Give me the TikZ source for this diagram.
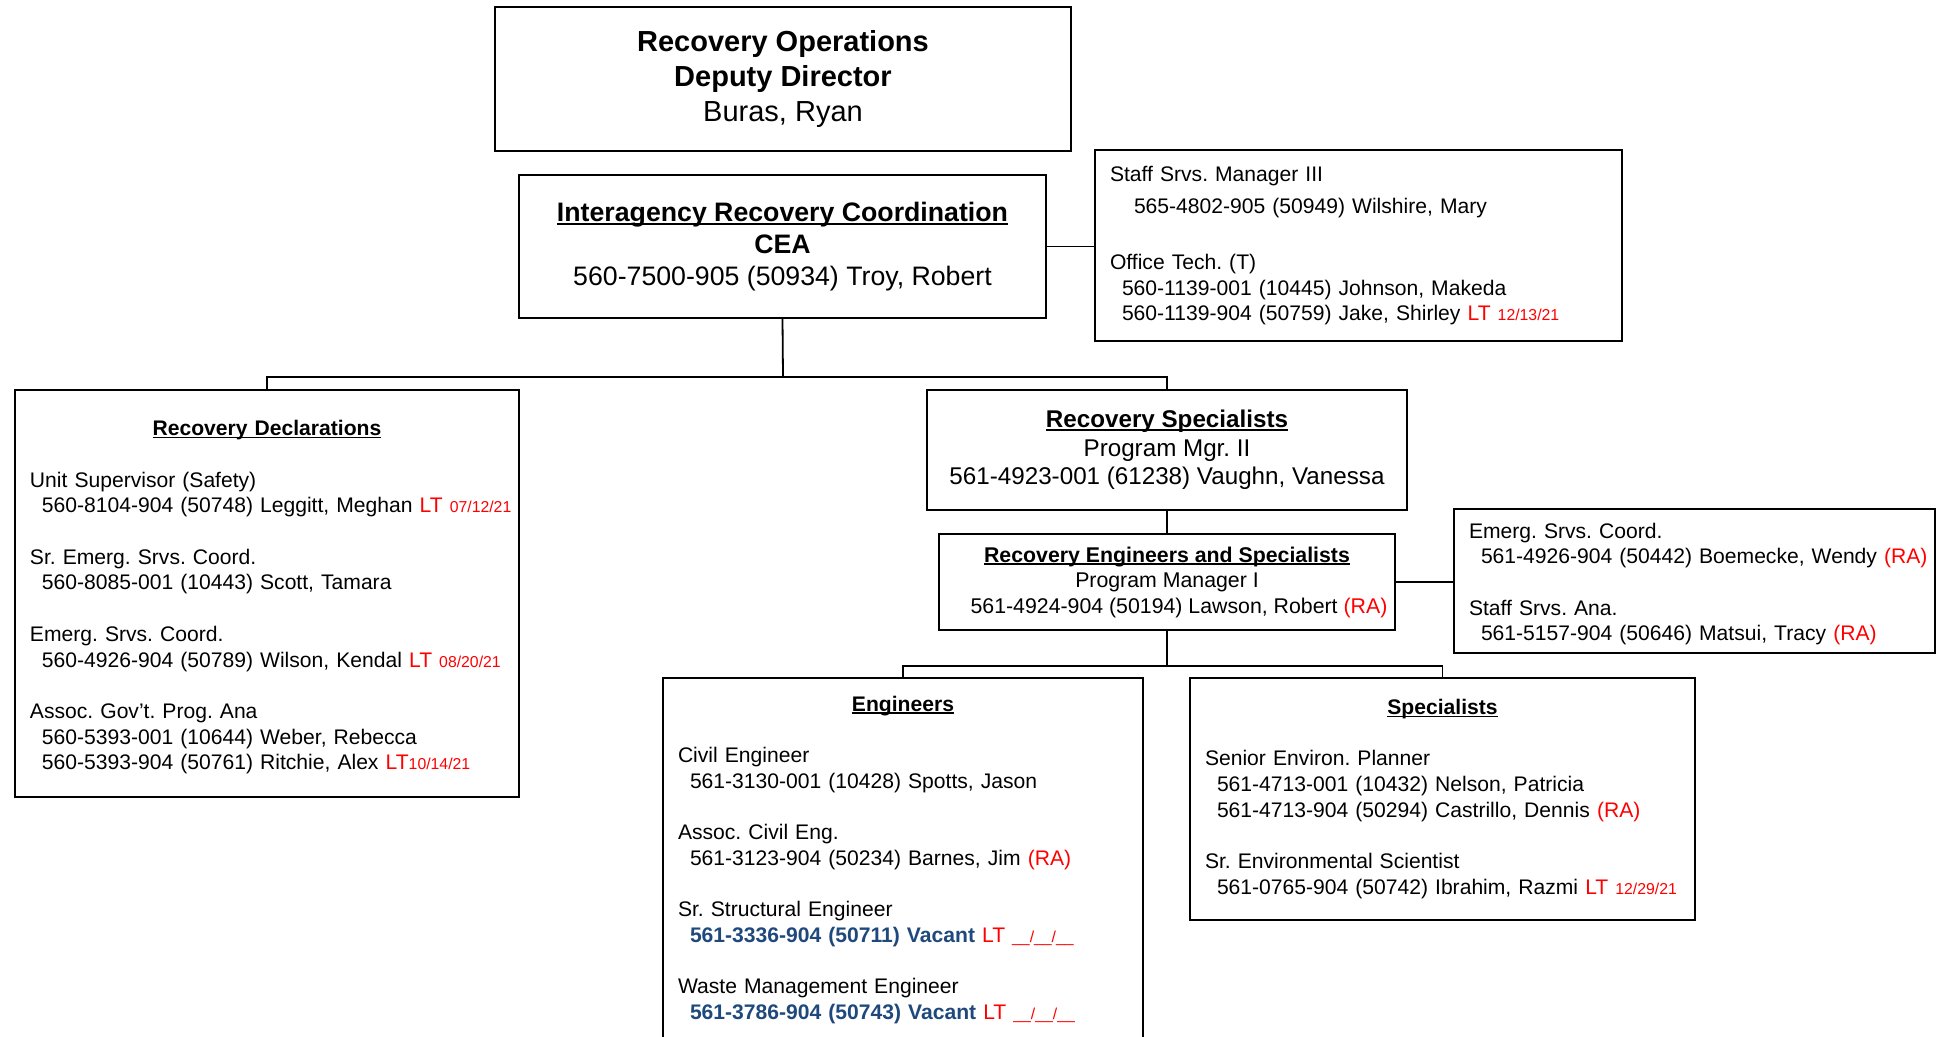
\documentclass[tikz,border=0pt]{standalone}
\usepackage{fontspec}
\setmainfont{Liberation Sans}
\frenchspacing
\definecolor{ltred}{RGB}{255,0,0}
\definecolor{vacblue}{RGB}{31,73,125}
\newsavebox\ulbox
\newcommand\hdul[1]{\sbox\ulbox{#1}\rlap{\rule[-0.125em]{\wd\ulbox}{0.07em}}\usebox\ulbox}
\newcommand\ttl[2][0bp]{\makebox[\hsize][c]{\rule{0pt}{#1}\hdul{\bfseries #2}}}
\newcommand\sub[1]{\mbox{\hspace*{12bp}#1}}
\newcommand\dat[1]{{\fontsize{15.8bp}{15.8bp}\selectfont #1}}
\newcommand\ra{\textcolor{ltred}{(RA)}}
\newcommand\vac[1]{\textcolor{vacblue}{\bfseries #1} \textcolor{ltred}{LT \dat{\_\_/\_\_/\_\_}}}
\newcommand\gap{\\[25.7bp]}
\begin{document}
\begin{tikzpicture}[x=1bp,y=-1bp,
  box/.style={draw,line width=1.8bp,inner sep=0pt},
  listbox/.style={box,inner xsep=15bp,align=left,font=\fontsize{21.1bp}{25.7bp}\selectfont},
  wire/.style={draw,line width=1.8bp}]
\useasboundingbox (0,0) rectangle (1946,1036);

\node[box,minimum width=576bp,minimum height=144bp,align=center,font=\fontsize{29bp}{34.7bp}\selectfont] (dir) at (783,79)
  {{\bfseries Recovery Operations}\\{\bfseries Deputy Director}\\Buras, Ryan};
\node[box,minimum width=527bp,minimum height=143bp,align=center,font=\fontsize{26.7bp}{31.6bp}\selectfont] (irc) at (782.5,246.5)
  {\hdul{\bfseries Interagency Recovery Coordination}\\{\bfseries CEA}\\560-7500-905 (50934) Troy, Robert};
\node[listbox,text width=497bp,minimum height=191bp] (staff) at (1358.5,245.5)
  {Staff Srvs. Manager III\\[7bp]
   \mbox{\hspace*{24bp}565-4802-905 (50949) Wilshire, Mary}\\[30bp]
   Office Tech. (T)\\
   \sub{560-1139-001 (10445) Johnson, Makeda}\\
   \sub{560-1139-904 (50759) Jake, Shirley \textcolor{ltred}{LT \dat{12/13/21}}}};

\node[listbox,text width=474bp,minimum height=407bp] (recdecl) at (267,593.5)
  {\ttl[23bp]{Recovery Declarations}\gap
   Unit Supervisor (Safety)\\
   \sub{560-8104-904 (50748) Leggitt, Meghan \textcolor{ltred}{LT \dat{07/12/21}}}\gap
   Sr. Emerg. Srvs. Coord.\\
   \sub{560-8085-001 (10443) Scott, Tamara}\gap
   Emerg. Srvs. Coord.\\
   \sub{560-4926-904 (50789) Wilson, Kendal \textcolor{ltred}{LT \dat{08/20/21}}}\gap
   Assoc. Gov’t. Prog. Ana\\
   \sub{560-5393-001 (10644) Weber, Rebecca}\\
   \sub{560-5393-904 (50761) Ritchie, Alex \textcolor{ltred}{LT\dat{10/14/21}}}};
\node[box,minimum width=480bp,minimum height=120bp,align=center,font=\fontsize{24.2bp}{28.5bp}\selectfont] (recspec) at (1167,450)
  {\hdul{\bfseries Recovery Specialists}\\Program Mgr. II\\561-4923-001 (61238) Vaughn, Vanessa};
\node[box,minimum width=456bp,minimum height=96bp,align=center,font=\fontsize{21.3bp}{25.5bp}\selectfont] (reas) at (1167,582)
  {\hdul{\bfseries Recovery Engineers and Specialists}\\Program Manager I\\\hspace*{24bp}561-4924-904 (50194) Lawson, Robert \ra};
\node[listbox,text width=451bp,minimum height=144bp] (support) at (1694.5,581)
  {\rule{0pt}{21.5bp}Emerg. Srvs. Coord.\\
   \sub{561-4926-904 (50442) Boemecke, Wendy \ra}\gap
   Staff Srvs. Ana.\\
   \sub{561-5157-904 (50646) Matsui, Tracy \ra}};

\node[listbox,text width=450bp,minimum height=380bp] (eng) at (903,868)
  {\ttl[20.5bp]{Engineers}\gap
   Civil Engineer\\
   \sub{561-3130-001 (10428) Spotts, Jason}\gap
   Assoc. Civil Eng.\\
   \sub{561-3123-904 (50234) Barnes, Jim \ra}\gap
   Sr. Structural Engineer\\
   \sub{\vac{561-3336-904 (50711) Vacant}}\gap
   Waste Management Engineer\\
   \sub{\vac{561-3786-904 (50743) Vacant}}\\
   \mbox{}};
\node[listbox,text width=475bp,minimum height=242bp] (spec) at (1442.5,799)
  {\ttl{Specialists}\gap
   Senior Environ. Planner\\
   \sub{561-4713-001 (10432) Nelson, Patricia}\\
   \sub{561-4713-904 (50294) Castrillo, Dennis \ra}\gap
   Sr. Environmental Scientist\\
   \sub{561-0765-904 (50742) Ibrahim, Razmi \textcolor{ltred}{LT \dat{12/29/21}}}};

\coordinate (bus1) at (783,377);
\coordinate (bus2) at (1167,666);

\path[wire] (irc.east) edge (irc.east -| staff.west);
\path[wire] (irc.south) edge (bus1);
\draw[wire] (recdecl.north) |- (bus1) -| (recspec.north);
\path[wire] (recspec.south) edge (reas.north);
\path[wire] (reas.east) edge (reas.east -| support.west);
\path[wire] (reas.south) edge (bus2);
\draw[wire] (eng.north) |- (bus2) -| (spec.north);
\end{tikzpicture}
\end{document}
